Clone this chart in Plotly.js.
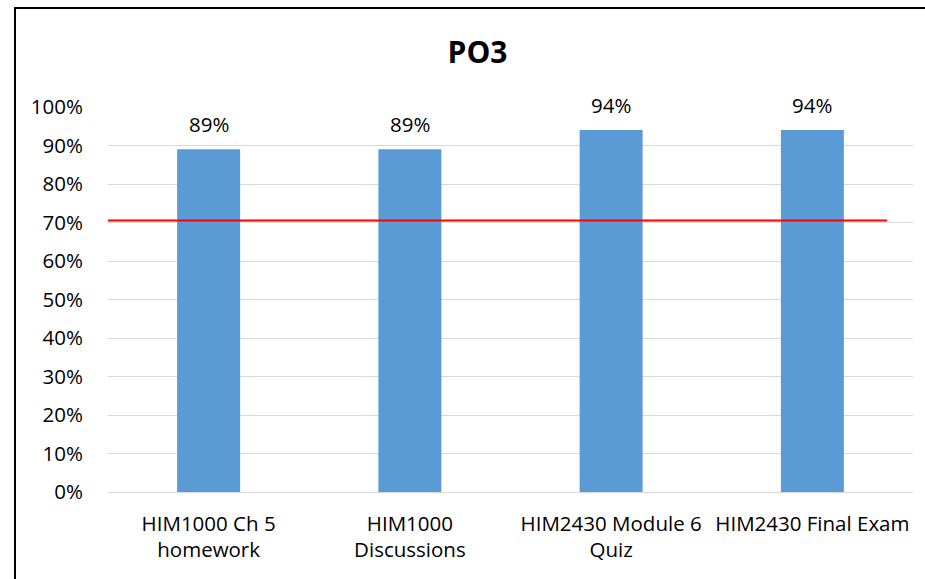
<!DOCTYPE html>
<html>
<head>
<meta charset="utf-8">
<script src="https://cdn.plot.ly/plotly-3.0.1.min.js"></script>
<style>html,body{margin:0;padding:0;background:#fff;}#chart{width:925px;height:579px;}</style>
</head>
<body>
<div id="chart"></div>
<script>
const categories = ["HIM1000 Ch 5<br>homework", "HIM1000<br>Discussions", "HIM2430 Module 6<br>Quiz", "HIM2430 Final Exam"];
const values = [0.89, 0.89, 0.94, 0.94];
const labels = ["89%", "89%", "94%", "94%"];
const threshold = 0.705;
const yTicks = [0, 0.1, 0.2, 0.3, 0.4, 0.5, 0.6, 0.7, 0.8, 0.9, 1.0];
const yTickText = ["0%", "10%", "20%", "30%", "40%", "50%", "60%", "70%", "80%", "90%", "100%"];

const FONT = "'Open Sans', 'Noto Sans', sans-serif";

const bar = {
  type: "bar",
  x: [0, 1, 2, 3],
  y: values,
  marker: { color: "#5b9bd5" },
  width: 0.313,
  hoverinfo: "none"
};

const line = {
  type: "scatter",
  mode: "lines",
  x: [0, 0.968],
  y: [threshold, threshold],
  xaxis: "x2",
  line: { color: "#ff0000", width: 2 },
  hoverinfo: "none"
};

const annotations = values.map((v, i) => ({
  x: i, y: v, xref: "x", yref: "y",
  text: labels[i], showarrow: false,
  yanchor: "bottom", yshift: 9,
  font: { family: FONT, size: 20.5, color: "#000" }
}));

const layout = {
  width: 925, height: 579,
  margin: { l: 108, r: 12, t: 107, b: 87 },
  paper_bgcolor: "#fff", plot_bgcolor: "#fff",
  showlegend: false,
  title: {
    text: "<b>PO3</b>",
    font: { family: FONT, size: 30, color: "#000" },
    x: 477.5 / 925, xref: "container", xanchor: "center",
    y: 1 - 52 / 579, yref: "container", yanchor: "middle"
  },
  xaxis: {
    type: "linear",
    range: [-0.5, 3.5],
    tickvals: [0, 1, 2, 3],
    ticktext: categories,
    ticks: "outside", ticklen: 13, tickcolor: "rgba(0,0,0,0)",
    showgrid: false, zeroline: false,
    showline: true, linecolor: "#d9d9d9", linewidth: 1,
    tickfont: { family: FONT, size: 20.5, color: "#000" },
    fixedrange: true
  },
  xaxis2: {
    overlaying: "x", range: [0, 1], visible: false, fixedrange: true
  },
  yaxis: {
    range: [0, 1],
    tickvals: yTicks, ticktext: yTickText,
    ticks: "outside", ticklen: 20, tickcolor: "rgba(0,0,0,0)",
    showgrid: true, gridcolor: "#d9d9d9", gridwidth: 1,
    zeroline: false, showline: false,
    tickfont: { family: FONT, size: 20.5, color: "#000" },
    fixedrange: true
  },
  annotations: annotations,
  shapes: [{
    type: "rect", xref: "paper", yref: "paper",
    x0: (15 - 108) / 805, x1: 1.2,
    y0: -0.5, y1: (492 - 8) / 385,
    line: { color: "#000", width: 2 }, fillcolor: "rgba(0,0,0,0)"
  }]
};

Plotly.newPlot("chart", [bar, line], layout, { displayModeBar: false, staticPlot: true });
</script>
</body>
</html>
